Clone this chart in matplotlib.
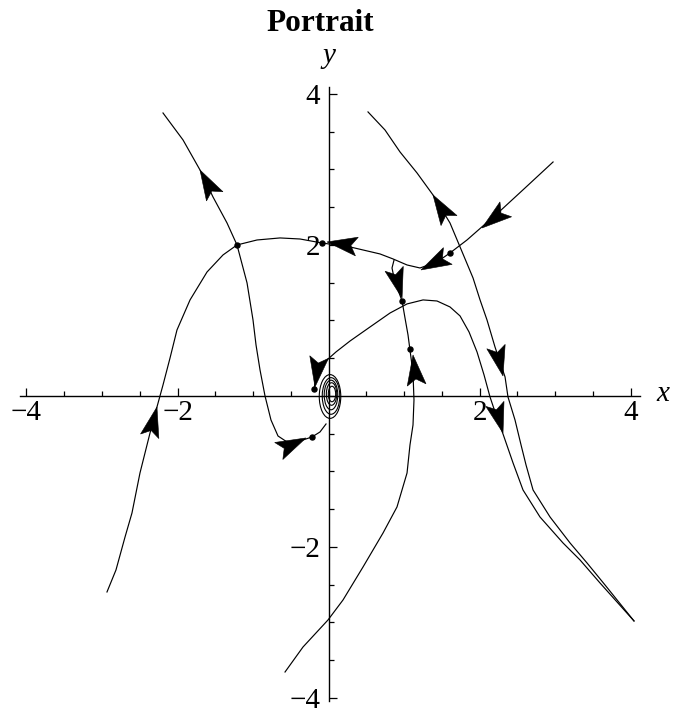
import matplotlib
matplotlib.use('Agg')
import matplotlib.pyplot as plt
import numpy as np
from matplotlib.patches import Polygon, Ellipse
from matplotlib.ticker import FixedLocator, MultipleLocator

plt.rcParams['font.family'] = 'Liberation Serif'

# --- trajectories -----------------------------------------------------------
# left branch: from lower left, over the top of the "2" hump, out to upper right
left_x = [-2.934, -2.815, -2.695, -2.603, -2.497, -2.364, -2.272, -2.192, -2.099,
          -2.007, -1.834, -1.609, -1.397, -1.212, -0.947, -0.642, -0.377, -0.086,
          0.285, 0.682, 0.854, 1.040, 1.212, 1.437, 1.609, 1.834, 2.046, 2.272,
          2.603, 2.974]
left_y = [-2.596, -2.305, -1.868, -1.550, -1.020, -0.490, -0.146, 0.146, 0.503,
          0.874, 1.272, 1.642, 1.868, 2.000, 2.066, 2.093, 2.079, 2.026,
          1.974, 1.881, 1.815, 1.735, 1.695, 1.775, 1.894, 2.066, 2.252, 2.450,
          2.755, 3.099]

# branch leaving the upper left and dropping into the spiral
drop_x = [-2.192, -1.927, -1.702, -1.530, -1.344, -1.212, -1.079, -1.000, -0.960,
          -0.907, -0.841, -0.762, -0.669, -0.550, -0.377, -0.219, -0.113, -0.033]
drop_y = [3.748, 3.391, 2.993, 2.636, 2.291, 2.000, 1.497, 1.007, 0.675,
          0.344, 0.000, -0.318, -0.530, -0.609, -0.596, -0.543, -0.477, -0.371]

# branch from the spiral over the small hump and down to the lower right
hump_x = [-0.192, -0.166, -0.113, -0.020, 0.099, 0.285, 0.550, 0.815, 1.040,
          1.252, 1.437, 1.609, 1.742, 1.861, 1.967, 2.060, 2.139, 2.232, 2.311,
          2.444, 2.576, 2.801, 3.106, 3.331, 3.596, 4.046]
hump_y = [0.093, 0.238, 0.371, 0.477, 0.583, 0.728, 0.914, 1.099, 1.219,
          1.272, 1.258, 1.179, 1.060, 0.848, 0.583, 0.278, -0.013, -0.291, -0.503,
          -0.887, -1.245, -1.603, -1.947, -2.172, -2.477, -2.980]

# branch coming down from the top right
right_x = [0.523, 0.748, 0.947, 1.172, 1.384, 1.609, 1.742, 1.914, 2.007, 2.099,
           2.205, 2.338, 2.377, 2.470, 2.550, 2.616, 2.709, 2.934, 3.199, 3.424,
           3.662, 4.046]
right_y = [3.762, 3.523, 3.232, 2.954, 2.662, 2.291, 1.974, 1.563, 1.272, 1.007,
           0.649, 0.252, -0.013, -0.318, -0.649, -0.914, -1.245, -1.603, -1.947,
           -2.212, -2.503, -2.980]

# near-vertical separatrix below the saddle
vert_x = [0.868, 0.841, 0.868, 0.921, 0.974, 1.013, 1.053, 1.079, 1.119, 1.132,
          1.119, 1.079, 1.040, 0.907, 0.722, 0.457, 0.192, -0.007, -0.338, -0.576]
vert_y = [1.801, 1.695, 1.563, 1.404, 1.258, 1.033, 0.808, 0.609, 0.305, -0.053,
          -0.384, -0.649, -1.020, -1.470, -1.815, -2.265, -2.702, -2.967, -3.325,
          -3.656]

curves = [(left_x, left_y), (drop_x, drop_y), (hump_x, hump_y),
          (right_x, right_y), (vert_x, vert_y)]

# loops of the spiral around the origin: centre, width, height
loop_cx = [0.020, 0.033, 0.033, 0.040, 0.046]
loop_cy = [-0.007, 0.000, 0.013, 0.026, 0.026]
loop_w = [0.285, 0.232, 0.180, 0.138, 0.098]
loop_h = [0.580, 0.485, 0.392, 0.298, 0.205]

# initial points
dot_x = [-0.086, 1.609, 0.974, 1.079, -0.192, -0.219, -1.212]
dot_y = [2.026, 1.894, 1.258, 0.623, 0.093, -0.543, 2.000]

# arrowheads: tip and a point behind it on the curve
tip_x = [-2.272, -1.702, -0.020, 1.225, 2.033, 0.974, 1.119, -0.179, -0.298,
         1.384, 2.311, 2.311]
tip_y = [-0.146, 2.993, 2.040, 1.669, 2.225, 1.298, 0.543, 0.119, -0.556,
         2.662, 0.265, -0.490]
tail_x = [-2.364, -1.517, 0.325, 1.530, 2.338, 0.881, 1.159, -0.126, -0.603,
          1.583, 2.232, 2.219]
tail_y = [-0.517, 2.662, 1.987, 1.828, 2.464, 1.642, 0.212, 0.503, -0.702,
          2.344, 0.596, -0.159]

x_major = [-4, -2, 2, 4]
y_major = [-4, -2, 2, 4]


def arrowhead(ax, tip, tail, length=0.40, width=0.25):
    tip = np.asarray(tip, float)
    d = tip - np.asarray(tail, float)
    d /= np.hypot(*d)
    n = np.array([-d[1], d[0]])
    back = tip - length * d
    pts = [tip, back + 0.5 * width * n, tip - 0.80 * length * d,
           back - 0.5 * width * n]
    ax.add_patch(Polygon(pts, closed=True, fc='black', ec='black', lw=0.4,
                         zorder=4))


fig = plt.figure(figsize=(6.76, 7.08), dpi=100)
ax = fig.add_axes([0.02914, 0.00989, 0.9170, 0.8670])
ax.set_xlim(-4.09, 4.12)
ax.set_ylim(-4.04, 4.09)

for cx, cy in curves:
    ax.plot(cx, cy, color='black', lw=0.85, zorder=3)

for cx, cy, w, h in zip(loop_cx, loop_cy, loop_w, loop_h):
    ax.add_patch(Ellipse((cx, cy), w, h, fill=False, ec='black', lw=0.8,
                         zorder=3))

ax.plot(dot_x, dot_y, 'o', color='black', ms=3.6, zorder=5)

for tx, ty, bx, by in zip(tip_x, tip_y, tail_x, tail_y):
    arrowhead(ax, (tx, ty), (bx, by))

# axes through the origin
for side in ('top', 'right'):
    ax.spines[side].set_visible(False)
ax.spines['left'].set_position(('data', 0))
ax.spines['bottom'].set_position(('data', 0))
for side in ('left', 'bottom'):
    ax.spines[side].set_linewidth(1.0)
ax.xaxis.set_major_locator(FixedLocator(x_major))
ax.yaxis.set_major_locator(FixedLocator(y_major))
ax.xaxis.set_minor_locator(MultipleLocator(0.5))
ax.yaxis.set_minor_locator(MultipleLocator(0.5))
ax.tick_params(which='both', direction='in', width=0.9, labelsize=21)
ax.tick_params(which='major', length=6.0)
ax.tick_params(which='minor', length=3.6)
ax.tick_params(axis='x', pad=3)
ax.tick_params(axis='y', pad=6)
ax.set_facecolor('none')

fig.text(320 / 676, 1 - 31 / 708, 'Portrait', ha='center', va='baseline',
         fontsize=22.5, fontweight='bold')
fig.text(328.5 / 676, 1 - 63 / 708, 'y', ha='center', va='baseline',
         fontsize=21, style='italic')
fig.text(663 / 676, 1 - 401 / 708, 'x', ha='center', va='baseline',
         fontsize=21, style='italic')

fig.savefig('out.png', dpi=100, facecolor='white')
